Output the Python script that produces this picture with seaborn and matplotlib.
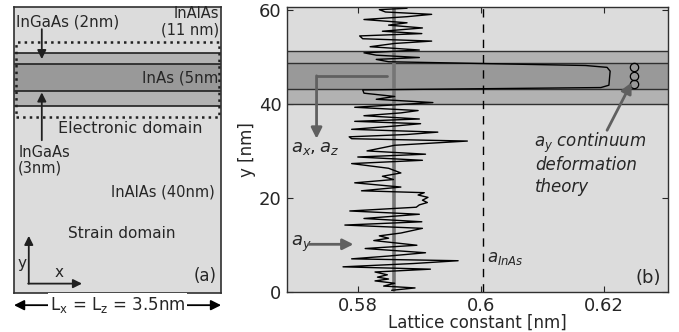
import numpy as np
import pandas as pd
import seaborn as sns
import matplotlib.pyplot as plt
from matplotlib.patches import Rectangle

# layer boundaries [nm] : InAlAs | InGaAs | InAs | InGaAs | InAlAs
layer_edges = [40.0, 43.2, 48.8, 51.2]
y_top = 60.6

# a_y profile (y [nm], lattice constant [nm])
prof_y = [0.3, 0.8, 1.2, 1.8, 2.3, 2.7, 3.1, 3.6, 4.2, 4.8, 5.3, 6.0, 6.6, 7.0, 7.6,
          8.3, 9.2, 9.9, 10.9, 11.4, 11.9, 12.5, 13.5, 14.2, 14.9, 15.6, 16.5, 17.2,
          18.0, 18.5, 19.0, 19.5, 20.1, 20.6, 21.1, 21.5, 22.3, 23.2, 23.9, 24.6,
          25.3, 26.3, 27.3, 28.0, 28.7, 29.3, 30.0, 31.2, 32.1, 32.6, 33.0, 33.5,
          34.0, 34.6, 35.3, 35.8, 36.3, 36.8, 37.5, 38.1, 38.6, 39.3, 40.3, 41.0,
          41.6, 42.3, 43.0, 43.5, 44.0, 47.0, 47.8, 48.2, 49.0, 49.5, 49.9, 50.4,
          50.9, 51.5, 52.2, 52.9, 53.4, 53.9, 54.5, 55.0, 55.5, 56.2, 56.8, 57.3,
          58.0, 58.6, 59.1, 59.6, 60.1, 60.4]
prof_a = [0.5855, 0.5893, 0.5842, 0.5860, 0.5828, 0.5850, 0.5832, 0.5848, 0.5828,
          0.5918, 0.5776, 0.5890, 0.5963, 0.5790, 0.5850, 0.5910, 0.5812, 0.5896,
          0.5826, 0.5850, 0.5835, 0.5870, 0.5905, 0.5779, 0.5904, 0.5810, 0.5900,
          0.5787, 0.5895, 0.5900, 0.5913, 0.5905, 0.5914, 0.5898, 0.5908, 0.5806,
          0.5870, 0.5795, 0.5858, 0.5840, 0.5870, 0.5850, 0.5790, 0.5905, 0.5800,
          0.5910, 0.5815, 0.5860, 0.5978, 0.5790, 0.5786, 0.5880, 0.5930, 0.5790,
          0.5860, 0.5902, 0.5795, 0.5900, 0.5810, 0.5870, 0.5898, 0.5795, 0.5922,
          0.5830, 0.5860, 0.5810, 0.5808, 0.6195, 0.6208, 0.6210, 0.6205, 0.6170,
          0.5850, 0.5830, 0.5900, 0.5830, 0.5810, 0.5900, 0.5820, 0.5860, 0.5920,
          0.5808, 0.5803, 0.5904, 0.5840, 0.5905, 0.5850, 0.5880, 0.5810, 0.5880,
          0.5920, 0.5845, 0.5835, 0.5880]

a_xz = 0.5859          # a_x = a_z (thick gray line)
a_inas = 0.6003        # dashed reference
cont_y = [44.2, 46.0, 47.8]   # continuum deformation theory circles
cont_a = [0.6249, 0.6249, 0.6249]

prof = pd.DataFrame({"y": prof_y, "a": prof_a})

sns.set_style("ticks")
plt.rcParams["font.family"] = ["DejaVu Sans"]

bg = "#dcdcdc"
mid = "#b2b2b2"
dark = "#999999"
arrow_gray = "#606060"

fig = plt.figure(figsize=(6.79, 3.32), dpi=100)

# ---------------- panel (a): schematic ----------------
axa = fig.add_axes([0.0206, 0.1175, 0.305, 0.861])
axa.set_xlim(0, 3.5)
axa.set_ylim(0, 61)
axa.set_facecolor(bg)
axa.set_xticks([])
axa.set_yticks([])
for s in axa.spines.values():
    s.set_linewidth(1.2)
    s.set_color("#303030")
axa.axhspan(layer_edges[0], layer_edges[1], color=mid, lw=0)
axa.axhspan(layer_edges[1], layer_edges[2], color=dark, lw=0)
axa.axhspan(layer_edges[2], layer_edges[3], color=mid, lw=0)
for e in layer_edges:
    axa.axhline(e, color="#202020", lw=1.2)
axa.add_patch(Rectangle((0.03, 37.6), 3.44, 16.0, fill=False, ls=":", lw=1.8, ec="#202020"))

axa.text(0.03, 57.8, "InGaAs (2nm)", fontsize=10.8, va="center", ha="left")
axa.text(3.46, 59.6, "InAlAs", fontsize=10.5, va="center", ha="right")
axa.text(3.46, 56.1, "(11 nm)", fontsize=10.5, va="center", ha="right")
axa.text(3.46, 45.9, "InAs (5nm", fontsize=10.8, va="center", ha="right")
axa.text(0.74, 35.2, "Electronic domain", fontsize=11.5, va="center", ha="left")
axa.text(0.07, 29.9, "InGaAs", fontsize=10.5, va="center", ha="left")
axa.text(0.07, 26.7, "(3nm)", fontsize=10.5, va="center", ha="left")
axa.text(3.40, 21.5, "InAlAs (40nm)", fontsize=10.5, va="center", ha="right")
axa.text(0.91, 12.8, "Strain domain", fontsize=11, va="center", ha="left")
axa.text(3.43, 3.6, "(a)", fontsize=12, va="center", ha="right")
axa.text(0.14, 6.2, "y", fontsize=11, va="center", ha="center")
axa.text(0.76, 4.3, "x", fontsize=11, va="center", ha="center")

kw = dict(arrowstyle="-|>", color="#202020", lw=1.3, mutation_scale=13, shrinkA=0, shrinkB=0)
axa.annotate("", xy=(0.47, 49.9), xytext=(0.47, 56.3), arrowprops=kw)
axa.annotate("", xy=(0.47, 42.8), xytext=(0.47, 32.6), arrowprops=kw)
axa.annotate("", xy=(0.25, 12.2), xytext=(0.25, 2.0), arrowprops=kw)
axa.annotate("", xy=(1.15, 2.0), xytext=(0.24, 2.0), arrowprops=kw)

# width arrow under the box
axa.annotate("", xy=(0.0, -2.6), xytext=(3.5, -2.6), annotation_clip=False,
             arrowprops=dict(arrowstyle="<|-|>", color="k", lw=1.3, mutation_scale=15,
                             shrinkA=0, shrinkB=0))
axa.text(1.75, -2.6, r"L$_\mathregular{x}$ = L$_\mathregular{z}$ = 3.5nm", fontsize=12,
         ha="center", va="center", clip_on=False,
         bbox=dict(fc="white", ec="none", pad=1.5))

# ---------------- panel (b): lattice constant ----------------
axb = fig.add_axes([0.4227, 0.1214, 0.5611, 0.8566])
axb.set_facecolor(bg)
axb.axhspan(layer_edges[0], layer_edges[1], color=mid, lw=0)
axb.axhspan(layer_edges[1], layer_edges[2], color=dark, lw=0)
axb.axhspan(layer_edges[2], layer_edges[3], color=mid, lw=0)
for e in layer_edges:
    axb.axhline(e, color="#303030", lw=1.0)

axb.plot([a_xz, a_xz], [0.3, 60.4], color="#767676", lw=2.6)
axb.axvline(a_inas, color="k", lw=1.0, ls=(0, (6, 5)))
sns.lineplot(data=prof, x="a", y="y", sort=False, estimator=None, color="k",
             lw=1.0, ax=axb)
axb.plot(cont_a, cont_y, ls="none", marker="o", ms=6, mfc="none", mec="k", mew=0.9)

axb.set_xlim(0.5685, 0.6304)
axb.set_ylim(0, y_top)
axb.set_xticks([0.58, 0.6, 0.62])
axb.set_xticklabels(["0.58", "0.6", "0.62"])
axb.set_yticks([0, 20, 40, 60])
axb.tick_params(direction="in", top=True, right=True, length=4, width=0.8,
                labelsize=13, pad=4)
for s in axb.spines.values():
    s.set_linewidth(1.0)
    s.set_color("#303030")
axb.set_xlabel("Lattice constant [nm]", fontsize=12, labelpad=-1)
axb.set_ylabel("y [nm]", fontsize=12, labelpad=2)

# a_x, a_z pointer
axb.plot([0.5848, 0.5733], [46.0, 46.0], color=arrow_gray, lw=2)
axb.annotate("", xy=(0.5733, 32.6), xytext=(0.5733, 46.0),
             arrowprops=dict(arrowstyle="-|>", color=arrow_gray, lw=2,
                             mutation_scale=16, shrinkA=0, shrinkB=0))
axb.text(0.5692, 30.6, r"$a_x, a_z$", fontsize=13, va="center", ha="left")

# a_y pointer
axb.text(0.5692, 10.1, r"$a_y$", fontsize=13, va="center", ha="left")
axb.annotate("", xy=(0.5793, 10.1), xytext=(0.5720, 10.1),
             arrowprops=dict(arrowstyle="-|>", color=arrow_gray, lw=2,
                             mutation_scale=16, shrinkA=0, shrinkB=0))

# continuum theory note
axb.text(0.6086, 31.6, r"$a_y$ continuum", fontsize=12, style="italic",
         va="center", ha="left")
axb.text(0.6088, 27.0, "deformation", fontsize=12, style="italic", va="center", ha="left")
axb.text(0.6088, 22.3, "theory", fontsize=12, style="italic", va="center", ha="left")
axb.annotate("", xy=(0.6245, 44.6), xytext=(0.6205, 34.4),
             arrowprops=dict(arrowstyle="-|>", color=arrow_gray, lw=2,
                             mutation_scale=16, shrinkA=0, shrinkB=0))

axb.text(0.6010, 7.2, r"$a_{InAs}$", fontsize=12, va="center", ha="left")
axb.text(0.6293, 2.9, "(b)", fontsize=13, va="center", ha="right")

fig.savefig("out.png", dpi=100)
print("Saved out.png")
